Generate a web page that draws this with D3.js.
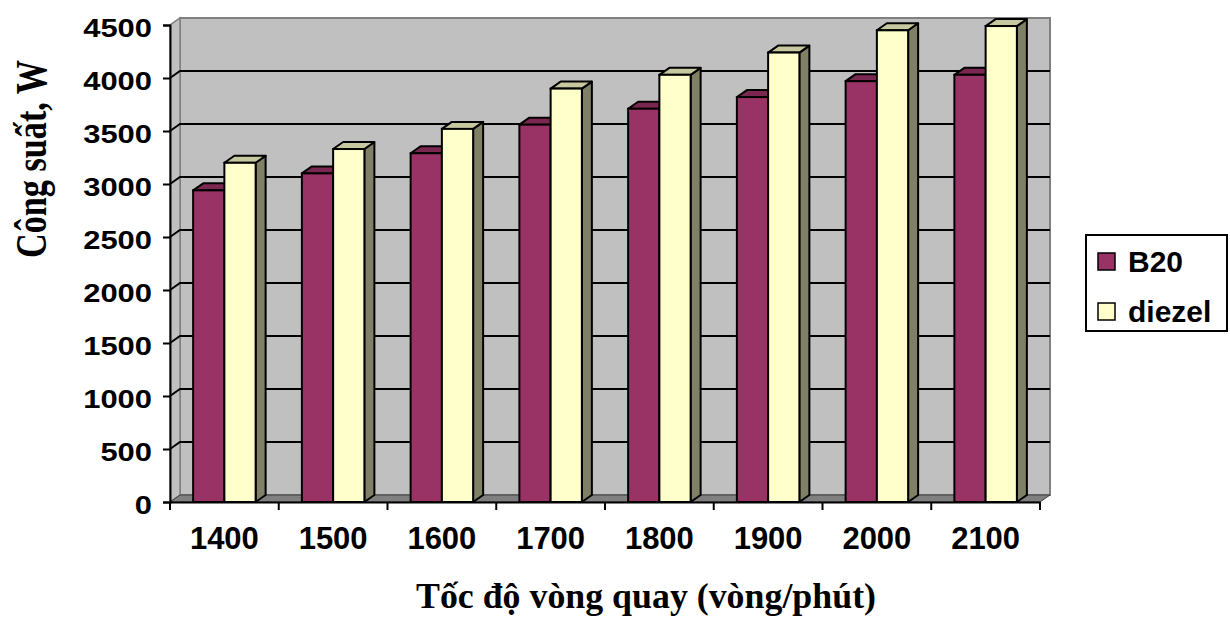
<!DOCTYPE html>
<html>
<head>
<meta charset="utf-8">
<script src="https://cdn.jsdelivr.net/npm/d3@7"></script>
<style>
  body { margin: 0; background: #fff; }
</style>
</head>
<body>
<div id="chart"></div>
<script>
// dados
let categorias = ["1400", "1500", "1600", "1700", "1800", "1900", "2000", "2100"];
let series = ["B20", "diezel"];
let valoresB20 = [2940, 3100, 3290, 3560, 3710, 3820, 3970, 4030];
let valoresDiezel = [3200, 3330, 3520, 3900, 4030, 4240, 4450, 4490];
let ticksY = [0, 500, 1000, 1500, 2000, 2500, 3000, 3500, 4000, 4500];

let larg = 1230;
let alt = 617;
let dx = 10, dy = -7;   // profundidade 3D

let cores = {
    B20:    {frente: "#993366", topo: "#7a2850", lado: "#662244"},
    diezel: {frente: "#ffffcc", topo: "#c8c8a0", lado: "#808066"}
};

let linhas = [];
categorias.forEach(function(c, i){
    linhas.push({cat: c, serie: "B20", valor: valoresB20[i]});
    linhas.push({cat: c, serie: "diezel", valor: valoresDiezel[i]});
});

let canvas = d3.select("#chart")
                .append("svg")
                .attr("width", larg)
                .attr("height", alt);

var x = d3.scaleBand()
            .domain(categorias)
            .range([170, 1040]);

var xs = d3.scaleBand()
            .domain(series)
            .range([0, x.bandwidth()])
            .paddingOuter(0.74);

var y = d3.scaleLinear()
            .domain([0, 4500])
            .range([502, 25]);

var x0 = x.range()[0], x1 = x.range()[1];
var yTop = y(4500), yBase = y(0);

// parede do fundo
canvas.append("rect")
    .attr("x", x0 + dx)
    .attr("y", yTop + dy)
    .attr("width", x1 - x0)
    .attr("height", yBase - yTop)
    .attr("fill", "#c0c0c0")
    .attr("stroke", "#808080")
    .attr("stroke-width", 2);

// parede lateral
canvas.append("path")
    .attr("d", "M" + x0 + "," + yBase + "L" + x0 + "," + yTop + "L" + (x0 + dx) + "," + (yTop + dy) + "L" + (x0 + dx) + "," + (yBase + dy) + "Z")
    .attr("fill", "#c0c0c0")
    .attr("stroke", "#808080")
    .attr("stroke-width", 1.5);

// chao
canvas.append("path")
    .attr("d", "M" + x0 + "," + yBase + "L" + x1 + "," + yBase + "L" + (x1 + dx) + "," + (yBase + dy) + "L" + (x0 + dx) + "," + (yBase + dy) + "Z")
    .attr("fill", "#808080")
    .attr("stroke", "#404040")
    .attr("stroke-width", 1);

// grade
var grade = canvas.append("g");
grade.selectAll(".gh")
    .data(ticksY.filter((d) => d > 0 && d < 4500))
    .enter()
        .append("path")
        .attr("class", "gh")
        .attr("d", (d) => "M" + x0 + "," + y(d) + "L" + (x0 + dx) + "," + (y(d) + dy) + "L" + (x1 + dx) + "," + (y(d) + dy))
        .attr("fill", "none")
        .attr("stroke", "black")
        .attr("stroke-width", 2);

// barras
var barras = canvas.selectAll(".barra")
                .data(linhas)
                .enter()
                    .append("g")
                    .attr("class", "barra");

function bx(d){ return x(d.cat) + xs(d.serie); }
var w = xs.bandwidth();

barras.append("path")
    .attr("d", (d) => {
        var a = bx(d) + w, t = y(d.valor);
        return "M" + a + "," + t + "L" + (a + dx) + "," + (t + dy) + "L" + (a + dx) + "," + (yBase + dy) + "L" + a + "," + yBase + "Z";
    })
    .attr("fill", (d) => cores[d.serie].lado)
    .attr("stroke", "black")
    .attr("stroke-width", 2)
    .attr("stroke-linejoin", "round");

barras.append("path")
    .attr("d", (d) => {
        var a = bx(d), t = y(d.valor);
        return "M" + a + "," + t + "L" + (a + w) + "," + t + "L" + (a + w + dx) + "," + (t + dy) + "L" + (a + dx) + "," + (t + dy) + "Z";
    })
    .attr("fill", (d) => cores[d.serie].topo)
    .attr("stroke", "black")
    .attr("stroke-width", 2)
    .attr("stroke-linejoin", "round");

barras.append("rect")
    .attr("x", (d) => bx(d))
    .attr("y", (d) => y(d.valor))
    .attr("width", w)
    .attr("height", (d) => yBase - y(d.valor))
    .attr("fill", (d) => cores[d.serie].frente)
    .attr("stroke", "black")
    .attr("stroke-width", 2);

// eixo Y
var eixoY = d3.axisLeft(y)
                .tickValues(ticksY)
                .tickFormat(d3.format("d"))
                .tickSize(7)
                .tickPadding(11);

var gy = canvas.append("g")
        .attr("transform", "translate(" + x0 + ",0)")
        .style("font", "bold 26px 'Liberation Sans', Arial, sans-serif")
        .call(eixoY);
gy.select(".domain").attr("stroke-width", 2);
gy.selectAll(".tick line").attr("stroke-width", 2);
gy.selectAll("text")
    .attr("dy", "0.45em")
    .attr("fill", "black")
    .attr("textLength", (d) => String(d).length * 17.2)
    .attr("lengthAdjust", "spacingAndGlyphs");

// eixo X
var eixoX = d3.axisBottom(x)
                .tickSize(0)
                .tickPadding(25);

var gx = canvas.append("g")
        .attr("transform", "translate(0," + yBase + ")")
        .style("font", "bold 31px 'Liberation Sans', Arial, sans-serif")
        .call(eixoX);
gx.select(".domain").attr("stroke-width", 2);
gx.selectAll("text").attr("fill", "black");

var limites = categorias.map((c) => x(c)).concat([x1]);
gx.selectAll(".lim")
    .data(limites)
    .enter()
        .append("line")
        .attr("class", "lim")
        .attr("x1", (d) => d)
        .attr("x2", (d) => d)
        .attr("y1", 0)
        .attr("y2", 8)
        .attr("stroke", "black")
        .attr("stroke-width", 2);

// titulos
canvas.append("text")
    .attr("transform", "translate(46,159) rotate(-90)")
    .attr("text-anchor", "middle")
    .attr("textLength", 198)
    .attr("lengthAdjust", "spacingAndGlyphs")
    .style("font", "bold 44px 'Liberation Serif', 'Times New Roman', serif")
    .text("Công suất, W");

canvas.append("text")
    .attr("x", 646)
    .attr("y", 608)
    .attr("text-anchor", "middle")
    .attr("textLength", 460)
    .attr("lengthAdjust", "spacingAndGlyphs")
    .style("font", "bold 35px 'Liberation Serif', 'Times New Roman', serif")
    .text("Tốc độ vòng quay (vòng/phút)");

// legenda
var leg = canvas.append("g");
leg.append("rect")
    .attr("x", 1086)
    .attr("y", 235)
    .attr("width", 141)
    .attr("height", 96)
    .attr("fill", "white")
    .attr("stroke", "black")
    .attr("stroke-width", 2);

var itens = leg.selectAll(".item")
                .data(series)
                .enter()
                    .append("g")
                    .attr("class", "item")
                    .attr("transform", (d, i) => "translate(1098," + (253 + i * 50) + ")");
itens.append("rect")
    .attr("width", 17)
    .attr("height", 17)
    .attr("fill", (d) => cores[d].frente)
    .attr("stroke", "black")
    .attr("stroke-width", 1.5);
itens.append("text")
    .attr("x", 30)
    .attr("y", 19)
    .style("font", "bold 30px 'Liberation Sans', Arial, sans-serif")
    .text((d) => d);
</script>
</body>
</html>
